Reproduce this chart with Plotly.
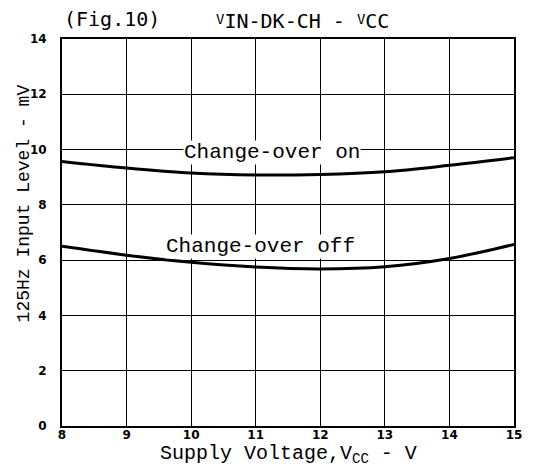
import plotly.graph_objects as go

# Data
vcc = [8, 9, 10, 11, 12, 13, 14, 15]
change_over_on = [9.57, 9.33, 9.15, 9.08, 9.10, 9.20, 9.43, 9.70]
change_over_off = [6.50, 6.18, 5.92, 5.75, 5.68, 5.76, 6.06, 6.57]
x_ticks = [8, 9, 10, 11, 12, 13, 14, 15]
y_ticks = [0, 2, 4, 6, 8, 10, 12, 14]

fig = go.Figure()
for ys in (change_over_on, change_over_off):
    fig.add_trace(go.Scatter(x=vcc, y=ys, mode="lines",
                             line=dict(color="black", width=3, shape="spline", smoothing=1.0),
                             showlegend=False, hoverinfo="skip"))

mono = "Liberation Mono, Courier New, monospace"
tickfont = dict(family="DejaVu Sans, Arial", size=12, color="black", weight="bold")

big = "<span style='font-size:20px'>%s</span>"
small = "<span style='font-size:14px'>%s</span>"
title_text = (small % "V") + "<sub>" + (big % "IN-DK-CH - ") + "</sub>" + \
             (small % "V") + "<sub>" + (big % "CC") + "</sub>"

# page body has an 8px default margin, so the figure is sized to fit inside the window
fig.update_layout(
    width=534, height=460,
    margin=dict(l=54, r=28, t=31, b=42),
    paper_bgcolor="white", plot_bgcolor="white",
    xaxis=dict(range=[8, 15], tickvals=x_ticks, showgrid=True, gridcolor="black", gridwidth=1.3,
               zeroline=False, showline=True, linecolor="black", linewidth=2, mirror=True,
               ticks="", tickfont=tickfont, ticklabelstandoff=-3),
    yaxis=dict(range=[0, 14], tickvals=y_ticks, showgrid=True, gridcolor="black", gridwidth=1.3,
               zeroline=False, showline=True, linecolor="black", linewidth=2, mirror=True,
               ticks="", tickfont=tickfont, ticklabelstandoff=11),
    annotations=[
        dict(x=11.25, y=9.9, xref="x", yref="y", text="Change-over on", showarrow=False,
             bgcolor="white", font=dict(family=mono, size=21, color="black"), borderpad=0),
        dict(x=11.08, y=6.5, xref="x", yref="y", text="Change-over off", showarrow=False,
             bgcolor="white", font=dict(family=mono, size=21, color="black"), borderpad=0),
        dict(x=0.0, y=1.052, xref="paper", yref="paper", text="(Fig.10)", showarrow=False,
             xanchor="left", yanchor="middle", font=dict(family="DejaVu Sans Mono", size=20, color="black")),
        dict(x=0.533, y=1.046, xref="paper", yref="paper", text=title_text,
             showarrow=False, xanchor="center", yanchor="middle",
             font=dict(family="DejaVu Sans Mono", size=19, color="black")),
        dict(x=0.5, y=-0.073, xref="paper", yref="paper", text="Supply Voltage,V<sub>CC</sub> - V",
             showarrow=False, xanchor="center", yanchor="middle",
             font=dict(family=mono, size=20, color="black")),
        dict(x=-0.082, y=0.575, xref="paper", yref="paper", text="125Hz Input Level - mV",
             showarrow=False, textangle=-90, xanchor="center", yanchor="middle",
             font=dict(family=mono, size=18, color="black")),
    ],
)

fig.write_html("out.html")
